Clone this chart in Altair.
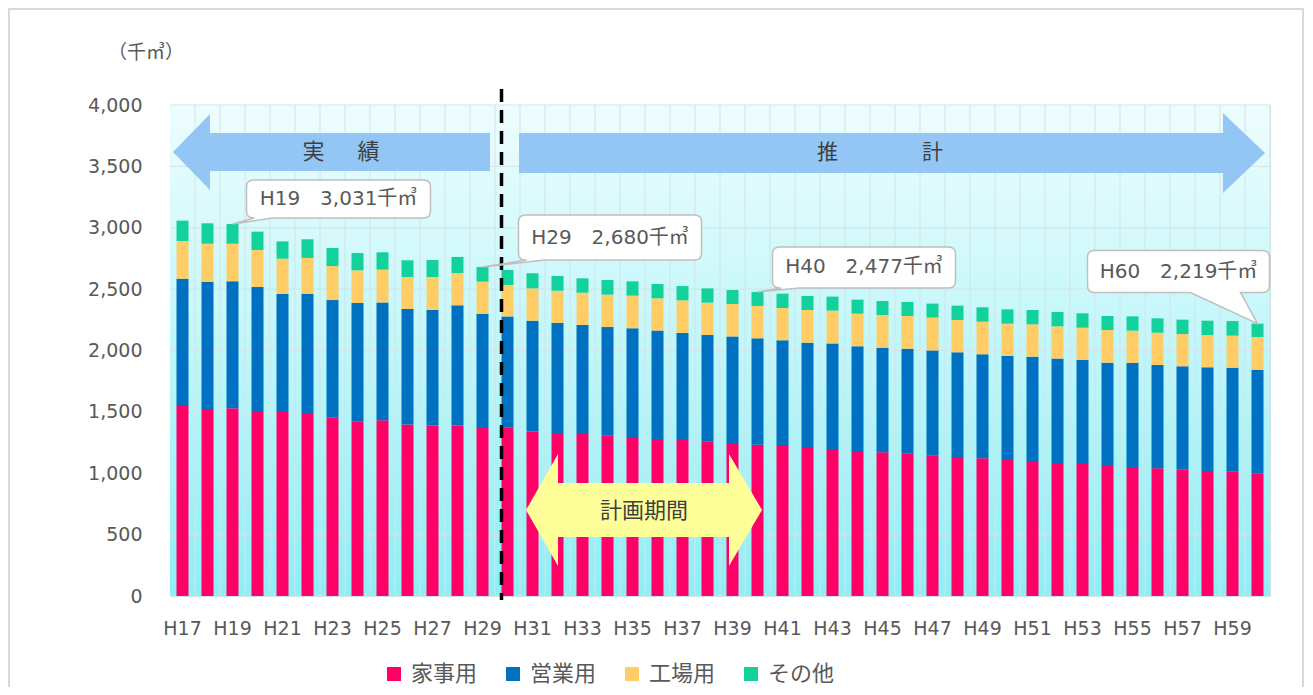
import altair as alt
import pandas as pd

# ---------------- data ----------------
years = ["H17", "H18", "H19", "H20", "H21", "H22", "H23", "H24", "H25", "H26", "H27",
         "H28", "H29", "H30", "H31", "H32", "H33", "H34", "H35", "H36", "H37", "H38",
         "H39", "H40", "H41", "H42", "H43", "H44", "H45", "H46", "H47", "H48", "H49",
         "H50", "H51", "H52", "H53", "H54", "H55", "H56", "H57", "H58", "H59", "H60"]
x_tick_labels = ["H17", "H19", "H21", "H23", "H25", "H27", "H29", "H31", "H33", "H35", "H37",
                 "H39", "H41", "H43", "H45", "H47", "H49", "H51", "H53", "H55", "H57", "H59"]
y_ticks = [0, 500, 1000, 1500, 2000, 2500, 3000, 3500, 4000]

series = ["家事用", "営業用", "工場用", "その他"]
series_colors = ["#FF0066", "#0070C0", "#FFCC66", "#12D19A"]

katei = [1548, 1523, 1529, 1507, 1499, 1483, 1453, 1423, 1431, 1398, 1390, 1390, 1377, 1371,
         1341, 1328, 1320, 1306, 1295, 1279, 1271, 1257, 1246, 1233, 1222, 1206, 1198, 1181,
         1172, 1162, 1146, 1132, 1122, 1108, 1100, 1084, 1075, 1059, 1051, 1040, 1029, 1018,
         1013, 999]
eigyo = [1037, 1038, 1035, 1010, 961, 980, 958, 964, 961, 940, 940, 978, 923, 907,
         902, 896, 888, 885, 886, 883, 872, 869, 869, 866, 861, 858, 860, 853,
         851, 853, 855, 853, 847, 847, 850, 850, 848, 842, 847, 842, 842, 845,
         847, 845]
kojo = [307, 309, 306, 302, 288, 291, 277, 266, 267, 261, 269, 263, 261, 256,
        263, 263, 263, 264, 266, 263, 266, 264, 264, 264, 263, 266, 267, 266,
        266, 266, 267, 263, 266, 264, 263, 263, 263, 266, 264, 263, 263, 263,
        261, 266]
sonota = [166, 166, 161, 149, 141, 152, 147, 141, 141, 136, 138, 131, 119, 122,
          123, 120, 117, 119, 116, 117, 116, 116, 114, 114, 117, 114, 114, 114,
          114, 114, 114, 117, 117, 116, 117, 117, 117, 114, 116, 117, 117, 117,
          119, 109]

callout_years = ["H19", "H29", "H40", "H60"]
callout_totals = [3031, 2680, 2477, 2219]
callout_labels = ["H19　3,031千㎥", "H29　2,680千㎥", "H40　2,477千㎥", "H60　2,219千㎥"]

rows = []
for i, yr in enumerate(years):
    for j, (s, vals) in enumerate(zip(series, [katei, eigyo, kojo, sonota])):
        rows.append({"year": yr, "kind": s, "value": vals[i], "ord": j})
df = pd.DataFrame(rows)

# ---------------- styling ----------------
W, H = 1100, 491
LAT = "DejaVu Sans, Noto Sans CJK JP"
CJK = "Noto Sans CJK JP"
GREY = "#595959"
DARK = "#404040"

x_scale = alt.Scale(domain=years, paddingInner=0.52, paddingOuter=0.26)
y_scale = alt.Scale(domain=[0, 4000], nice=False)
x_axis = alt.Axis(values=x_tick_labels, title=None, labelAngle=0, labelFontSize=19,
                  labelFont=LAT, labelColor=GREY, labelPadding=23, ticks=False,
                  domain=False, grid=False)
y_axis = alt.Axis(values=y_ticks, format=",.0f", title=None, labelFontSize=19,
                  labelFont=LAT, labelColor=GREY, labelPadding=28, ticks=False,
                  domain=False, grid=False)

one = pd.DataFrame({"a": [0]})

# outer chart border
border = alt.Chart(one).mark_rect(fillOpacity=0, stroke="#d9d9d9", strokeWidth=2).encode(
    x=alt.value(-161), x2=alt.value(1133), y=alt.value(-96), y2=alt.value(700))

# plot area gradient
grad = alt.Gradient(gradient="linear", x1=0, x2=0, y1=0, y2=1,
                    stops=[alt.GradientStop(color="#eefdfe", offset=0),
                           alt.GradientStop(color="#c4f7fa", offset=0.45),
                           alt.GradientStop(color="#8eeff5", offset=1)])
bg = alt.Chart(one).mark_rect(fill=grad, strokeWidth=0).encode(
    x=alt.value(0), x2=alt.value(W), y=alt.value(0), y2=alt.value(H))

# category grid (between bars): band end + half the inner gap
vgrid = alt.Chart(pd.DataFrame({"year": years})).mark_rule(
    color="#d3e3e6", strokeWidth=1, xOffset=6.5).encode(
    x=alt.X("year:N", scale=x_scale, axis=x_axis, bandPosition=1))

hgrid = alt.Chart(pd.DataFrame({"tick": y_ticks})).mark_rule(
    color="#d3e3e6", strokeWidth=1).encode(
    y=alt.Y("tick:Q", scale=y_scale, axis=y_axis))

bars = alt.Chart(df).mark_bar(strokeWidth=0).encode(
    x=alt.X("year:N", scale=x_scale, axis=x_axis),
    y=alt.Y("value:Q", stack="zero", scale=y_scale, axis=y_axis),
    color=alt.Color("kind:N", scale=alt.Scale(domain=series, range=series_colors),
                    legend=alt.Legend(title=None, orient="none", legendX=213, legendY=558,
                                      direction="horizontal", symbolType="square",
                                      symbolSize=196, symbolStrokeWidth=0,
                                      labelFont=CJK, labelFontSize=22, labelColor=GREY,
                                      labelOffset=6, columnPadding=24, padding=0)),
    order=alt.Order("ord:Q"),
)

dashed = alt.Chart(pd.DataFrame({"year": ["H30"]})).mark_rule(
    color="black", strokeWidth=3.5, strokeDash=[13, 8]).encode(
    x=alt.X("year:N", scale=x_scale, axis=x_axis, bandPosition=0),
    y=alt.value(-16), y2=alt.value(H + 4))


def shape_layer(path, **kw):
    return alt.Chart(one).mark_point(shape=path, size=4, filled=True, opacity=1, **kw).encode(
        x=alt.value(0), y=alt.value(0))


def text_layer(txt, x, y, font, size, color):
    return alt.Chart(one).mark_text(text=txt, font=font, fontSize=size, color=color,
                                    align="center", baseline="middle").encode(
        x=alt.value(x), y=alt.value(y))


arrow_left = "M3,47 L40,9 L40,28 L320,28 L320,66 L40,66 L40,85 Z"
arrow_right = "M349,28 L1053,28 L1053,8 L1095,48 L1053,88 L1053,68 L349,68 Z"
arrow_both = ("M356,405 L388,349 L388,378 L559,378 L559,349 L592,405 "
              "L559,461 L559,432 L388,432 L388,461 Z")

arrows = [
    shape_layer(arrow_left, color="#93C6F4", strokeWidth=0),
    shape_layer(arrow_right, color="#93C6F4", strokeWidth=0),
    shape_layer(arrow_both, color="#FFFF99", strokeWidth=0),
    text_layer("実\u3000\u2002績", 171, 47, CJK, 22, DARK),
    text_layer("推　　　　計", 710, 48, CJK, 21, DARK),
    text_layer("計画期間", 474, 406, CJK, 22, DARK),
    text_layer("（千㎥）", -24, -52, LAT, 19, GREY),
]


def callout_path(l, r, t, b, t1, t2, rad=7):
    return (f"M{l + rad},{t} L{r - rad},{t} Q{r},{t} {r},{t + rad} L{r},{b - rad} "
            f"Q{r},{b} {r - rad},{b} L{t2},{b} L0,0 L{t1},{b} L{l + rad},{b} "
            f"Q{l},{b} {l},{b - rad} L{l},{t + rad} Q{l},{t} {l + rad},{t} Z")


# box geometry relative to the tip (bar top): left, right, top, bottom, tail base
geoms = [(14, 198, -44, -6, 22, 40),
         (36, 219, -52, -7, 44, 62),
         (15, 198, -45, -4, 24, 42),
         (-170, 12, -73, -31, -67, -17)]

callouts = []
for yr, tot, lab, g in zip(callout_years, callout_totals, callout_labels, geoms):
    l, r, t, b, t1, t2 = g
    cdf = pd.DataFrame({"year": [yr], "total": [tot]})
    enc = dict(x=alt.X("year:N", scale=x_scale, axis=x_axis),
               y=alt.Y("total:Q", scale=y_scale, axis=y_axis))
    callouts.append(alt.Chart(cdf).mark_point(
        shape=callout_path(l, r, t, b, t1, t2), size=4, filled=True, opacity=1,
        fill="white", stroke="#bfbfbf", strokeWidth=1.5).encode(**enc))
    callouts.append(alt.Chart(cdf).mark_text(
        text=lab, font=LAT, fontSize=20, color=GREY, align="center", baseline="middle",
        dx=(l + r) / 2, dy=(t + b) / 2).encode(**enc))

chart = alt.layer(border, bg, vgrid, hgrid, bars, dashed, *arrows, *callouts).properties(
    width=W, height=H,
    autosize=alt.AutoSizeParams(type="none"),
    padding={"left": 162, "top": 97, "right": 35, "bottom": 91},
).configure_view(stroke="#d3dfe2", strokeWidth=1)

chart.save("out.html", embed_options={"renderer": "svg", "actions": False})
